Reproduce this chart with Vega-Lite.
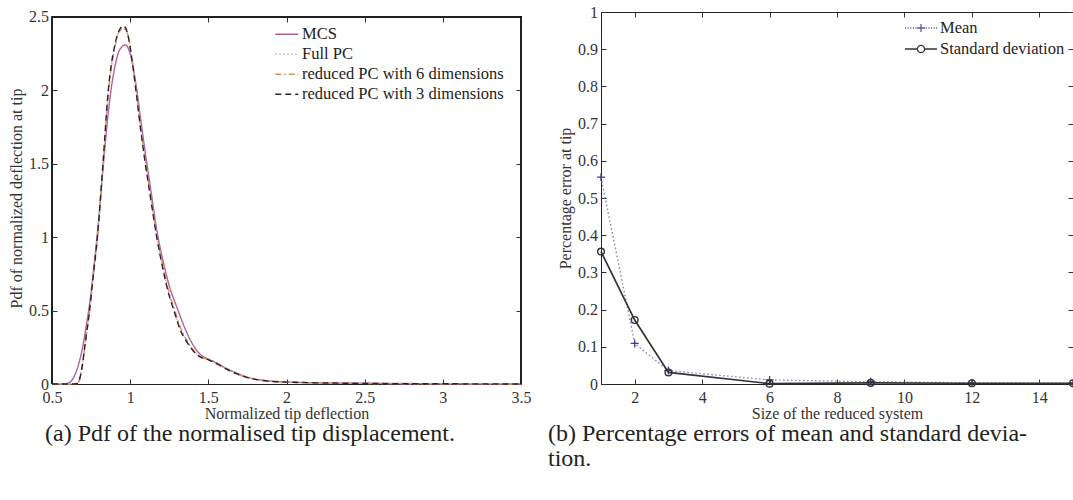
{
  "$schema": "https://vega.github.io/schema/vega-lite/v6.json",
  "background": "white",
  "padding": {"left": 8, "top": 3, "right": 0, "bottom": 0},
  "bounds": "flush",
  "spacing": 80,
  "config": {
    "font": "Liberation Serif",
    "view": {"stroke": null},
    "axis": {
      "labelFont": "Liberation Serif", "titleFont": "Liberation Serif",
      "labelFontSize": 16, "titleFontSize": 16, "titleFontWeight": "normal",
      "labelColor": "#333", "titleColor": "#333", "tickColor": "#333", "domainColor": "#222",
      "grid": false, "tickSize": -5, "labelFlush": false, "labelOverlap": false, "format": "~g"
    },
    "axisX": {"labelPadding": 10, "titlePadding": 0},
    "axisY": {"labelPadding": 8.5, "titlePadding": 4},
    "legend": {"labelFont": "Liberation Serif", "labelFontSize": 16.5, "labelColor": "#222", "padding": 0, "title": null, "labelLimit": 0}
  },
  "resolve": {"scale": {"color": "independent", "strokeDash": "independent", "shape": "independent", "strokeWidth": "independent"}},
  "datasets": {
    "pdf": [
      {"series": "MCS", "x": 0.5, "pdf": 0}, {"series": "MCS", "x": 0.58, "pdf": 0}, {"series": "MCS", "x": 0.6, "pdf": 0.005}, {"series": "MCS", "x": 0.63, "pdf": 0.03}, {"series": "MCS", "x": 0.66, "pdf": 0.1}, {"series": "MCS", "x": 0.69, "pdf": 0.22}, {"series": "MCS", "x": 0.72, "pdf": 0.4}, {"series": "MCS", "x": 0.745, "pdf": 0.58}, {"series": "MCS", "x": 0.77, "pdf": 0.82}, {"series": "MCS", "x": 0.795, "pdf": 1.08}, {"series": "MCS", "x": 0.825, "pdf": 1.45}, {"series": "MCS", "x": 0.86, "pdf": 1.85}, {"series": "MCS", "x": 0.9, "pdf": 2.15}, {"series": "MCS", "x": 0.935, "pdf": 2.28}, {"series": "MCS", "x": 0.97, "pdf": 2.31}, {"series": "MCS", "x": 1.0, "pdf": 2.25}, {"series": "MCS", "x": 1.04, "pdf": 2.02}, {"series": "MCS", "x": 1.07, "pdf": 1.78}, {"series": "MCS", "x": 1.1, "pdf": 1.55}, {"series": "MCS", "x": 1.135, "pdf": 1.3}, {"series": "MCS", "x": 1.17, "pdf": 1.05}, {"series": "MCS", "x": 1.21, "pdf": 0.84}, {"series": "MCS", "x": 1.25, "pdf": 0.67}, {"series": "MCS", "x": 1.3, "pdf": 0.52}, {"series": "MCS", "x": 1.35, "pdf": 0.38}, {"series": "MCS", "x": 1.4, "pdf": 0.27}, {"series": "MCS", "x": 1.45, "pdf": 0.2}, {"series": "MCS", "x": 1.5, "pdf": 0.17}, {"series": "MCS", "x": 1.55, "pdf": 0.145}, {"series": "MCS", "x": 1.6, "pdf": 0.115}, {"series": "MCS", "x": 1.67, "pdf": 0.08}, {"series": "MCS", "x": 1.74, "pdf": 0.05}, {"series": "MCS", "x": 1.82, "pdf": 0.03}, {"series": "MCS", "x": 1.9, "pdf": 0.02}, {"series": "MCS", "x": 2.0, "pdf": 0.014}, {"series": "MCS", "x": 2.2, "pdf": 0.008}, {"series": "MCS", "x": 2.5, "pdf": 0.005}, {"series": "MCS", "x": 2.8, "pdf": 0.003}, {"series": "MCS", "x": 3.2, "pdf": 0.001}, {"series": "MCS", "x": 3.5, "pdf": 0},

      {"series": "Full PC", "x": 0.5, "pdf": 0}, {"series": "Full PC", "x": 0.64, "pdf": 0}, {"series": "Full PC", "x": 0.665, "pdf": 0.006}, {"series": "Full PC", "x": 0.69, "pdf": 0.1}, {"series": "Full PC", "x": 0.715, "pdf": 0.3}, {"series": "Full PC", "x": 0.74, "pdf": 0.5}, {"series": "Full PC", "x": 0.765, "pdf": 0.75}, {"series": "Full PC", "x": 0.792, "pdf": 1.02}, {"series": "Full PC", "x": 0.826, "pdf": 1.5}, {"series": "Full PC", "x": 0.86, "pdf": 1.99}, {"series": "Full PC", "x": 0.9, "pdf": 2.29}, {"series": "Full PC", "x": 0.93, "pdf": 2.4}, {"series": "Full PC", "x": 0.958, "pdf": 2.43}, {"series": "Full PC", "x": 0.985, "pdf": 2.38}, {"series": "Full PC", "x": 1.01, "pdf": 2.22}, {"series": "Full PC", "x": 1.037, "pdf": 2.01}, {"series": "Full PC", "x": 1.065, "pdf": 1.76}, {"series": "Full PC", "x": 1.097, "pdf": 1.51}, {"series": "Full PC", "x": 1.133, "pdf": 1.26}, {"series": "Full PC", "x": 1.17, "pdf": 1.01}, {"series": "Full PC", "x": 1.21, "pdf": 0.79}, {"series": "Full PC", "x": 1.25, "pdf": 0.61}, {"series": "Full PC", "x": 1.28, "pdf": 0.51}, {"series": "Full PC", "x": 1.32, "pdf": 0.38}, {"series": "Full PC", "x": 1.36, "pdf": 0.3}, {"series": "Full PC", "x": 1.4, "pdf": 0.235}, {"series": "Full PC", "x": 1.44, "pdf": 0.19}, {"series": "Full PC", "x": 1.5, "pdf": 0.165}, {"series": "Full PC", "x": 1.55, "pdf": 0.14}, {"series": "Full PC", "x": 1.62, "pdf": 0.1}, {"series": "Full PC", "x": 1.68, "pdf": 0.07}, {"series": "Full PC", "x": 1.74, "pdf": 0.047}, {"series": "Full PC", "x": 1.82, "pdf": 0.028}, {"series": "Full PC", "x": 1.9, "pdf": 0.018}, {"series": "Full PC", "x": 2.0, "pdf": 0.013}, {"series": "Full PC", "x": 2.2, "pdf": 0.008}, {"series": "Full PC", "x": 2.5, "pdf": 0.004}, {"series": "Full PC", "x": 2.8, "pdf": 0.002}, {"series": "Full PC", "x": 3.2, "pdf": 0.001}, {"series": "Full PC", "x": 3.5, "pdf": 0},

      {"series": "reduced PC with 6 dimensions", "x": 0.5, "pdf": 0}, {"series": "reduced PC with 6 dimensions", "x": 0.64, "pdf": 0}, {"series": "reduced PC with 6 dimensions", "x": 0.665, "pdf": 0.005}, {"series": "reduced PC with 6 dimensions", "x": 0.69, "pdf": 0.1}, {"series": "reduced PC with 6 dimensions", "x": 0.715, "pdf": 0.29}, {"series": "reduced PC with 6 dimensions", "x": 0.74, "pdf": 0.49}, {"series": "reduced PC with 6 dimensions", "x": 0.765, "pdf": 0.74}, {"series": "reduced PC with 6 dimensions", "x": 0.792, "pdf": 1.0}, {"series": "reduced PC with 6 dimensions", "x": 0.826, "pdf": 1.48}, {"series": "reduced PC with 6 dimensions", "x": 0.86, "pdf": 1.98}, {"series": "reduced PC with 6 dimensions", "x": 0.9, "pdf": 2.28}, {"series": "reduced PC with 6 dimensions", "x": 0.93, "pdf": 2.4}, {"series": "reduced PC with 6 dimensions", "x": 0.958, "pdf": 2.42}, {"series": "reduced PC with 6 dimensions", "x": 0.985, "pdf": 2.38}, {"series": "reduced PC with 6 dimensions", "x": 1.01, "pdf": 2.23}, {"series": "reduced PC with 6 dimensions", "x": 1.037, "pdf": 2.02}, {"series": "reduced PC with 6 dimensions", "x": 1.065, "pdf": 1.77}, {"series": "reduced PC with 6 dimensions", "x": 1.097, "pdf": 1.52}, {"series": "reduced PC with 6 dimensions", "x": 1.133, "pdf": 1.27}, {"series": "reduced PC with 6 dimensions", "x": 1.17, "pdf": 1.02}, {"series": "reduced PC with 6 dimensions", "x": 1.21, "pdf": 0.8}, {"series": "reduced PC with 6 dimensions", "x": 1.25, "pdf": 0.62}, {"series": "reduced PC with 6 dimensions", "x": 1.28, "pdf": 0.52}, {"series": "reduced PC with 6 dimensions", "x": 1.32, "pdf": 0.39}, {"series": "reduced PC with 6 dimensions", "x": 1.36, "pdf": 0.3}, {"series": "reduced PC with 6 dimensions", "x": 1.4, "pdf": 0.235}, {"series": "reduced PC with 6 dimensions", "x": 1.44, "pdf": 0.19}, {"series": "reduced PC with 6 dimensions", "x": 1.5, "pdf": 0.166}, {"series": "reduced PC with 6 dimensions", "x": 1.55, "pdf": 0.14}, {"series": "reduced PC with 6 dimensions", "x": 1.62, "pdf": 0.1}, {"series": "reduced PC with 6 dimensions", "x": 1.68, "pdf": 0.07}, {"series": "reduced PC with 6 dimensions", "x": 1.74, "pdf": 0.047}, {"series": "reduced PC with 6 dimensions", "x": 1.82, "pdf": 0.028}, {"series": "reduced PC with 6 dimensions", "x": 1.9, "pdf": 0.018}, {"series": "reduced PC with 6 dimensions", "x": 2.0, "pdf": 0.013}, {"series": "reduced PC with 6 dimensions", "x": 2.2, "pdf": 0.008}, {"series": "reduced PC with 6 dimensions", "x": 2.5, "pdf": 0.004}, {"series": "reduced PC with 6 dimensions", "x": 2.8, "pdf": 0.002}, {"series": "reduced PC with 6 dimensions", "x": 3.2, "pdf": 0.001}, {"series": "reduced PC with 6 dimensions", "x": 3.5, "pdf": 0},

      {"series": "reduced PC with 3 dimensions", "x": 0.5, "pdf": 0}, {"series": "reduced PC with 3 dimensions", "x": 0.64, "pdf": 0}, {"series": "reduced PC with 3 dimensions", "x": 0.665, "pdf": 0.005}, {"series": "reduced PC with 3 dimensions", "x": 0.69, "pdf": 0.1}, {"series": "reduced PC with 3 dimensions", "x": 0.715, "pdf": 0.3}, {"series": "reduced PC with 3 dimensions", "x": 0.74, "pdf": 0.5}, {"series": "reduced PC with 3 dimensions", "x": 0.765, "pdf": 0.75}, {"series": "reduced PC with 3 dimensions", "x": 0.792, "pdf": 1.02}, {"series": "reduced PC with 3 dimensions", "x": 0.826, "pdf": 1.5}, {"series": "reduced PC with 3 dimensions", "x": 0.86, "pdf": 2.0}, {"series": "reduced PC with 3 dimensions", "x": 0.9, "pdf": 2.3}, {"series": "reduced PC with 3 dimensions", "x": 0.93, "pdf": 2.41}, {"series": "reduced PC with 3 dimensions", "x": 0.958, "pdf": 2.44}, {"series": "reduced PC with 3 dimensions", "x": 0.985, "pdf": 2.38}, {"series": "reduced PC with 3 dimensions", "x": 1.01, "pdf": 2.22}, {"series": "reduced PC with 3 dimensions", "x": 1.037, "pdf": 2.0}, {"series": "reduced PC with 3 dimensions", "x": 1.065, "pdf": 1.75}, {"series": "reduced PC with 3 dimensions", "x": 1.097, "pdf": 1.5}, {"series": "reduced PC with 3 dimensions", "x": 1.133, "pdf": 1.25}, {"series": "reduced PC with 3 dimensions", "x": 1.17, "pdf": 1.0}, {"series": "reduced PC with 3 dimensions", "x": 1.21, "pdf": 0.78}, {"series": "reduced PC with 3 dimensions", "x": 1.25, "pdf": 0.6}, {"series": "reduced PC with 3 dimensions", "x": 1.28, "pdf": 0.5}, {"series": "reduced PC with 3 dimensions", "x": 1.32, "pdf": 0.37}, {"series": "reduced PC with 3 dimensions", "x": 1.36, "pdf": 0.29}, {"series": "reduced PC with 3 dimensions", "x": 1.4, "pdf": 0.23}, {"series": "reduced PC with 3 dimensions", "x": 1.44, "pdf": 0.19}, {"series": "reduced PC with 3 dimensions", "x": 1.5, "pdf": 0.165}, {"series": "reduced PC with 3 dimensions", "x": 1.55, "pdf": 0.14}, {"series": "reduced PC with 3 dimensions", "x": 1.62, "pdf": 0.1}, {"series": "reduced PC with 3 dimensions", "x": 1.68, "pdf": 0.07}, {"series": "reduced PC with 3 dimensions", "x": 1.74, "pdf": 0.047}, {"series": "reduced PC with 3 dimensions", "x": 1.82, "pdf": 0.028}, {"series": "reduced PC with 3 dimensions", "x": 1.9, "pdf": 0.018}, {"series": "reduced PC with 3 dimensions", "x": 2.0, "pdf": 0.013}, {"series": "reduced PC with 3 dimensions", "x": 2.2, "pdf": 0.008}, {"series": "reduced PC with 3 dimensions", "x": 2.5, "pdf": 0.004}, {"series": "reduced PC with 3 dimensions", "x": 2.8, "pdf": 0.002}, {"series": "reduced PC with 3 dimensions", "x": 3.2, "pdf": 0.001}, {"series": "reduced PC with 3 dimensions", "x": 3.5, "pdf": 0}
    ],
    "err": [
      {"stat": "Mean", "size": 1, "err": 0.556}, {"stat": "Mean", "size": 2, "err": 0.109}, {"stat": "Mean", "size": 3, "err": 0.036}, {"stat": "Mean", "size": 6, "err": 0.011}, {"stat": "Mean", "size": 9, "err": 0.006}, {"stat": "Mean", "size": 12, "err": 0.003}, {"stat": "Mean", "size": 15, "err": 0.002},
      {"stat": "Standard deviation", "size": 1, "err": 0.356}, {"stat": "Standard deviation", "size": 2, "err": 0.172}, {"stat": "Standard deviation", "size": 3, "err": 0.031}, {"stat": "Standard deviation", "size": 6, "err": 0.001}, {"stat": "Standard deviation", "size": 9, "err": 0.003}, {"stat": "Standard deviation", "size": 12, "err": 0.002}, {"stat": "Standard deviation", "size": 15, "err": 0.002}
    ]
  },
  "hconcat": [
    {
      "width": 469,
      "height": 372,
      "data": {"name": "pdf"},
      "view": {"stroke": null},
      "title": {"text": "(a) Pdf of the normalised tip displacement.", "orient": "bottom", "anchor": "start", "frame": "group", "dx": -7, "offset": 1, "fontSize": 24, "font": "Liberation Serif", "fontWeight": "normal", "color": "#222", "baseline": "top"},
      "resolve": {"axis": {"x": "independent", "y": "independent"}},
      "layer": [
        {
          "mark": {"type": "line", "interpolate": "monotone"},
          "encoding": {
            "x": {"field": "x", "type": "quantitative", "scale": {"domain": [0.5, 3.5], "nice": false, "zero": false},
                  "axis": {"orient": "bottom", "values": [0.5, 1, 1.5, 2, 2.5, 3, 3.5], "title": "Normalized tip deflection"}},
            "y": {"field": "pdf", "type": "quantitative", "scale": {"domain": [0, 2.534], "nice": false, "zero": false},
                  "axis": {"orient": "left", "values": [0, 0.5, 1, 1.5, 2, 2.5], "title": "Pdf of normalized deflection at tip", "domain": false}},
            "color": {"field": "series", "type": "nominal",
                      "scale": {"domain": ["MCS", "Full PC", "reduced PC with 6 dimensions", "reduced PC with 3 dimensions"], "range": ["#b0609e", "#d7a9c9", "#d8935a", "#262626"]},
                      "legend": {"orient": "none", "legendX": 226.5, "legendY": 14, "symbolType": "M-2,0H2", "symbolSize": 132, "symbolStrokeWidth": 1.5, "labelOffset": 7, "rowPadding": 3, "labelLimit": 0}},
            "strokeDash": {"field": "series", "type": "nominal",
                      "scale": {"domain": ["MCS", "Full PC", "reduced PC with 6 dimensions", "reduced PC with 3 dimensions"], "range": [[1, 0], [1.5, 2.5], [6, 3, 1.5, 3], [6, 4]]},
                      "legend": {"orient": "none", "legendX": 226.5, "legendY": 14, "symbolType": "M-2,0H2", "symbolSize": 132, "symbolStrokeWidth": 1.5, "labelOffset": 7, "rowPadding": 3, "labelLimit": 0}},
            "strokeWidth": {"field": "series", "type": "nominal",
                      "scale": {"domain": ["MCS", "Full PC", "reduced PC with 6 dimensions", "reduced PC with 3 dimensions"], "range": [1.4, 1.4, 1.4, 2.1]},
                      "legend": null}
          }
        },
        {
          "mark": {"type": "rule", "color": "#222", "strokeWidth": 1},
          "encoding": {
            "x": {"datum": 0.5, "type": "quantitative", "scale": {"domain": [0.5, 3.5], "nice": false, "zero": false},
                  "axis": {"orient": "top", "values": [0.5, 1, 1.5, 2, 2.5, 3, 3.5], "labels": false, "domain": false, "title": null, "offset": -5}},
            "x2": {"datum": 3.5},
            "y": {"datum": 2.5, "type": "quantitative", "scale": {"domain": [0, 2.534], "nice": false, "zero": false},
                  "axis": {"orient": "right", "values": [0, 0.5, 1, 1.5, 2, 2.5], "labels": false, "domain": false, "title": null}}
          }
        },
        {
          "mark": {"type": "rule", "color": "#222", "strokeWidth": 1},
          "encoding": {
            "x": {"datum": 0.5, "type": "quantitative", "scale": {"domain": [0.5, 3.5], "nice": false, "zero": false}, "axis": null},
            "y": {"datum": 0, "type": "quantitative", "scale": {"domain": [0, 2.534], "nice": false, "zero": false}, "axis": null},
            "y2": {"datum": 2.5}
          }
        },
        {
          "mark": {"type": "rule", "color": "#222", "strokeWidth": 1},
          "encoding": {
            "x": {"datum": 3.5, "type": "quantitative", "scale": {"domain": [0.5, 3.5], "nice": false, "zero": false}, "axis": null},
            "y": {"datum": 0, "type": "quantitative", "scale": {"domain": [0, 2.534], "nice": false, "zero": false}, "axis": null},
            "y2": {"datum": 2.5}
          }
        }
      ]
    },
    {
      "width": 472,
      "height": 372,
      "data": {"name": "err"},
      "view": {"stroke": "#222", "strokeWidth": 1},
      "title": {"text": ["(b) Percentage errors of mean and standard devia-", "tion."], "orient": "bottom", "anchor": "start", "frame": "group", "dx": -53, "offset": 1, "fontSize": 24, "lineHeight": 25, "font": "Liberation Serif", "fontWeight": "normal", "color": "#222", "baseline": "top"},
      "resolve": {"axis": {"x": "independent", "y": "independent"}},
      "layer": [
        {
          "transform": [{"filter": "datum.stat === 'Mean'"}],
          "mark": {"type": "line", "color": "#8080c8", "strokeDash": [1.5, 2.5], "strokeWidth": 1.4},
          "encoding": {
            "x": {"field": "size", "type": "quantitative", "scale": {"domain": [1, 15], "nice": false, "zero": false},
                  "axis": {"orient": "bottom", "values": [2, 4, 6, 8, 10, 12, 14], "title": "Size of the reduced system"}},
            "y": {"field": "err", "type": "quantitative", "scale": {"domain": [0, 1], "nice": false, "zero": false},
                  "axis": {"orient": "left", "values": [0, 0.1, 0.2, 0.3, 0.4, 0.5, 0.6, 0.7, 0.8, 0.9, 1], "title": "Percentage error at tip"}}
          }
        },
        {
          "transform": [{"filter": "datum.stat === 'Mean'"}],
          "mark": {"type": "point", "shape": "M-1,0H1M0,-1V1", "filled": false, "color": "#3c3c96", "size": 64, "strokeWidth": 1.3, "opacity": 1},
          "encoding": {
            "x": {"field": "size", "type": "quantitative", "scale": {"domain": [1, 15], "nice": false, "zero": false}, "axis": null},
            "y": {"field": "err", "type": "quantitative", "scale": {"domain": [0, 1], "nice": false, "zero": false}, "axis": null}
          }
        },
        {
          "transform": [{"filter": "datum.stat === 'Standard deviation'"}],
          "mark": {"type": "line", "color": "#333333", "strokeWidth": 1.7},
          "encoding": {
            "x": {"field": "size", "type": "quantitative", "scale": {"domain": [1, 15], "nice": false, "zero": false}, "axis": null},
            "y": {"field": "err", "type": "quantitative", "scale": {"domain": [0, 1], "nice": false, "zero": false}, "axis": null}
          }
        },
        {
          "transform": [{"filter": "datum.stat === 'Standard deviation'"}],
          "mark": {"type": "point", "shape": "circle", "filled": false, "color": "#333333", "size": 45, "strokeWidth": 1.4, "opacity": 1},
          "encoding": {
            "x": {"field": "size", "type": "quantitative", "scale": {"domain": [1, 15], "nice": false, "zero": false},
                  "axis": {"orient": "top", "values": [2, 4, 6, 8, 10, 12, 14], "labels": false, "domain": false, "title": null}},
            "y": {"field": "err", "type": "quantitative", "scale": {"domain": [0, 1], "nice": false, "zero": false},
                  "axis": {"orient": "right", "values": [0, 0.1, 0.2, 0.3, 0.4, 0.5, 0.6, 0.7, 0.8, 0.9, 1], "labels": false, "domain": false, "title": null}}
          }
        },
        {
          "transform": [{"filter": "false"}],
          "mark": {"type": "point", "filled": false, "opacity": 1},
          "encoding": {
            "x": {"field": "size", "type": "quantitative", "scale": {"domain": [1, 15], "nice": false, "zero": false}, "axis": null},
            "y": {"field": "err", "type": "quantitative", "scale": {"domain": [0, 1], "nice": false, "zero": false}, "axis": null},
            "color": {"field": "stat", "type": "nominal",
                      "scale": {"domain": ["Mean", "Standard deviation"], "range": ["#5a5aa8", "#333333"]},
                      "legend": {"orient": "none", "legendX": 311, "legendY": 7, "symbolSize": 256, "symbolStrokeWidth": 1.3, "labelOffset": 10, "rowPadding": 3, "labelLimit": 0}},
            "shape": {"field": "stat", "type": "nominal",
                      "scale": {"domain": ["Mean", "Standard deviation"], "range": ["M-2,0h0.14M-1.675,0h0.14M-1.35,0h0.14M-1.025,0h0.14M-0.7,0h0.14M-0.375,0h0.14M0.275,0h0.14M0.6,0h0.14M0.925,0h0.14M1.25,0h0.14M1.575,0h0.14M1.86,0h0.14M-0.5,0H0.5M0,-0.5V0.5", "M-2,0H-0.45M0.45,0H2M0.45,0A0.45,0.45,0,1,1,-0.45,0A0.45,0.45,0,1,1,0.45,0"]},
                      "legend": {"orient": "none", "legendX": 311, "legendY": 7, "symbolSize": 256, "symbolStrokeWidth": 1.3, "labelOffset": 10, "rowPadding": 3, "labelLimit": 0}}
          }
        }
      ]
    }
  ]
}
